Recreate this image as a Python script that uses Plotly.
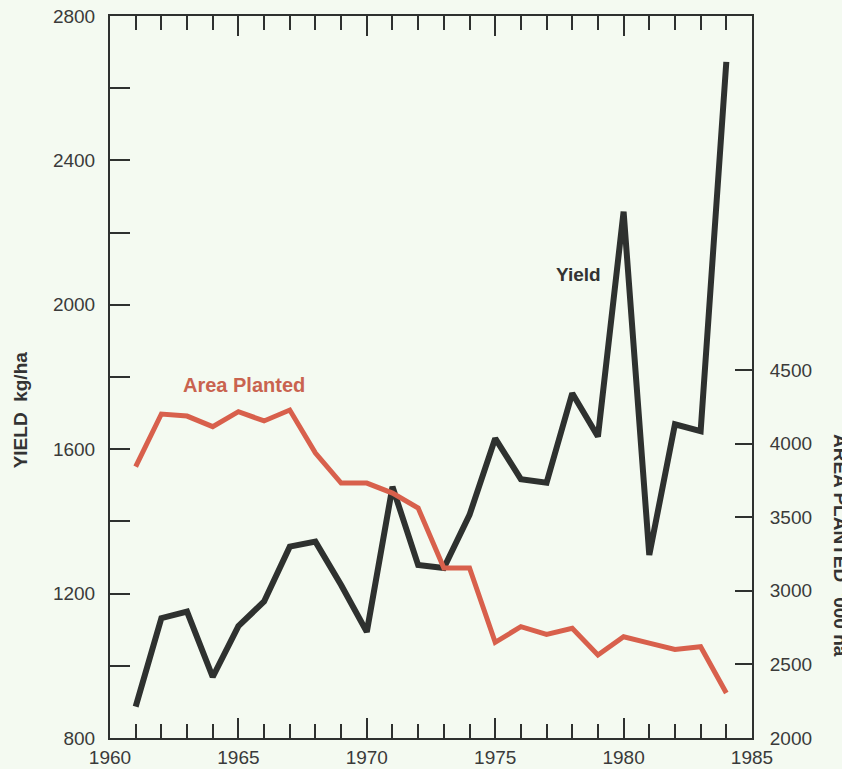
import plotly.graph_objects as go

# Annual series
years = [1961, 1962, 1963, 1964, 1965, 1966, 1967, 1968, 1969, 1970, 1971, 1972,
         1973, 1974, 1975, 1976, 1977, 1978, 1979, 1980, 1981, 1982, 1983, 1984]
yield_kg_ha = [887, 1132, 1150, 969, 1110, 1178, 1330, 1344, 1224, 1094, 1496, 1279,
               1271, 1418, 1630, 1517, 1507, 1755, 1635, 2258, 1307, 1669, 1650, 2673]
area_planted = [3843, 4201, 4187, 4115, 4217, 4154, 4228, 3936, 3732, 3732, 3664, 3562,
                3155, 3155, 2650, 2756, 2704, 2745, 2564, 2688, 2645, 2602, 2620, 2306]

# Axis ticks
x_ticks = [1960, 1965, 1970, 1975, 1980, 1985]
yield_ticks = [800, 1200, 1600, 2000, 2400, 2800]
area_ticks = [2000, 2500, 3000, 3500, 4000, 4500]

BG = "#f4faf1"
INK = "#2e312f"
RED = "#d8604c"
FONT = "Liberation Sans, Arial, sans-serif"

fig = go.Figure()
fig.add_trace(go.Scatter(x=years, y=area_planted, yaxis="y2", mode="lines",
                         line=dict(color=RED, width=5), name="Area Planted"))
fig.add_trace(go.Scatter(x=years, y=yield_kg_ha, yaxis="y", mode="lines",
                         line=dict(color=INK, width=6), name="Yield"))

fig.update_layout(
    template="none",
    width=842, height=769,
    margin=dict(l=110, r=90, t=16, b=31, autoexpand=False),
    paper_bgcolor=BG, plot_bgcolor=BG,
    showlegend=False,
    font=dict(family=FONT, size=19, color="#3a3a3a"),
    xaxis=dict(
        range=[1960, 1985], tickvals=x_ticks, ticktext=[str(v) for v in x_ticks],
        showgrid=False, zeroline=False, automargin=False,
        showline=True, linecolor=INK, linewidth=2, mirror="ticks",
        ticks="inside", ticklen=20, tickwidth=2, tickcolor=INK,
        minor=dict(dtick=1, ticks="inside", ticklen=14, tickwidth=2, tickcolor=INK,
                   showgrid=False),
        ticklabelstandoff=1,
    ),
    yaxis=dict(
        range=[800, 2800], tickvals=yield_ticks, ticktext=[str(v) for v in yield_ticks],
        showgrid=False, zeroline=False, automargin=False,
        showline=True, linecolor=INK, linewidth=2,
        ticks="inside", ticklen=20, tickwidth=2, tickcolor=INK,
        minor=dict(dtick=200, ticks="inside", ticklen=20, tickwidth=2, tickcolor=INK,
                   showgrid=False),
        ticklabelstandoff=9,
    ),
    yaxis2=dict(
        overlaying="y", side="right",
        range=[2000, 6905], tickvals=area_ticks, ticktext=[str(v) for v in area_ticks],
        showgrid=False, zeroline=False, automargin=False,
        showline=True, linecolor=INK, linewidth=2,
        ticks="inside", ticklen=17, tickwidth=2, tickcolor=INK,
        ticklabelstandoff=12,
    ),
)

# Series labels and axis titles
fig.add_annotation(x=1965.23, y=1778, xref="x", yref="y", text="<b>Area Planted</b>",
                   showarrow=False, font=dict(family=FONT, size=20, color="#c9634f"))
fig.add_annotation(x=1978.24, y=2083, xref="x", yref="y", text="<b>Yield</b>",
                   showarrow=False, font=dict(family=FONT, size=19, color="#333333"))
fig.add_annotation(x=-0.140, y=0.454, xref="paper", yref="paper",
                   xanchor="center", yanchor="middle",
                   text="<b>YIELD  kg/ha</b>", textangle=-90, showarrow=False,
                   font=dict(family=FONT, size=19, color="#333333"))
fig.add_annotation(x=1.139, y=0.267, xref="paper", yref="paper",
                   xanchor="center", yanchor="middle",
                   text="<b>AREA PLANTED  '000 ha</b>", textangle=90, showarrow=False,
                   font=dict(family=FONT, size=19, color="#333333"))

fig.write_html("out.html")
